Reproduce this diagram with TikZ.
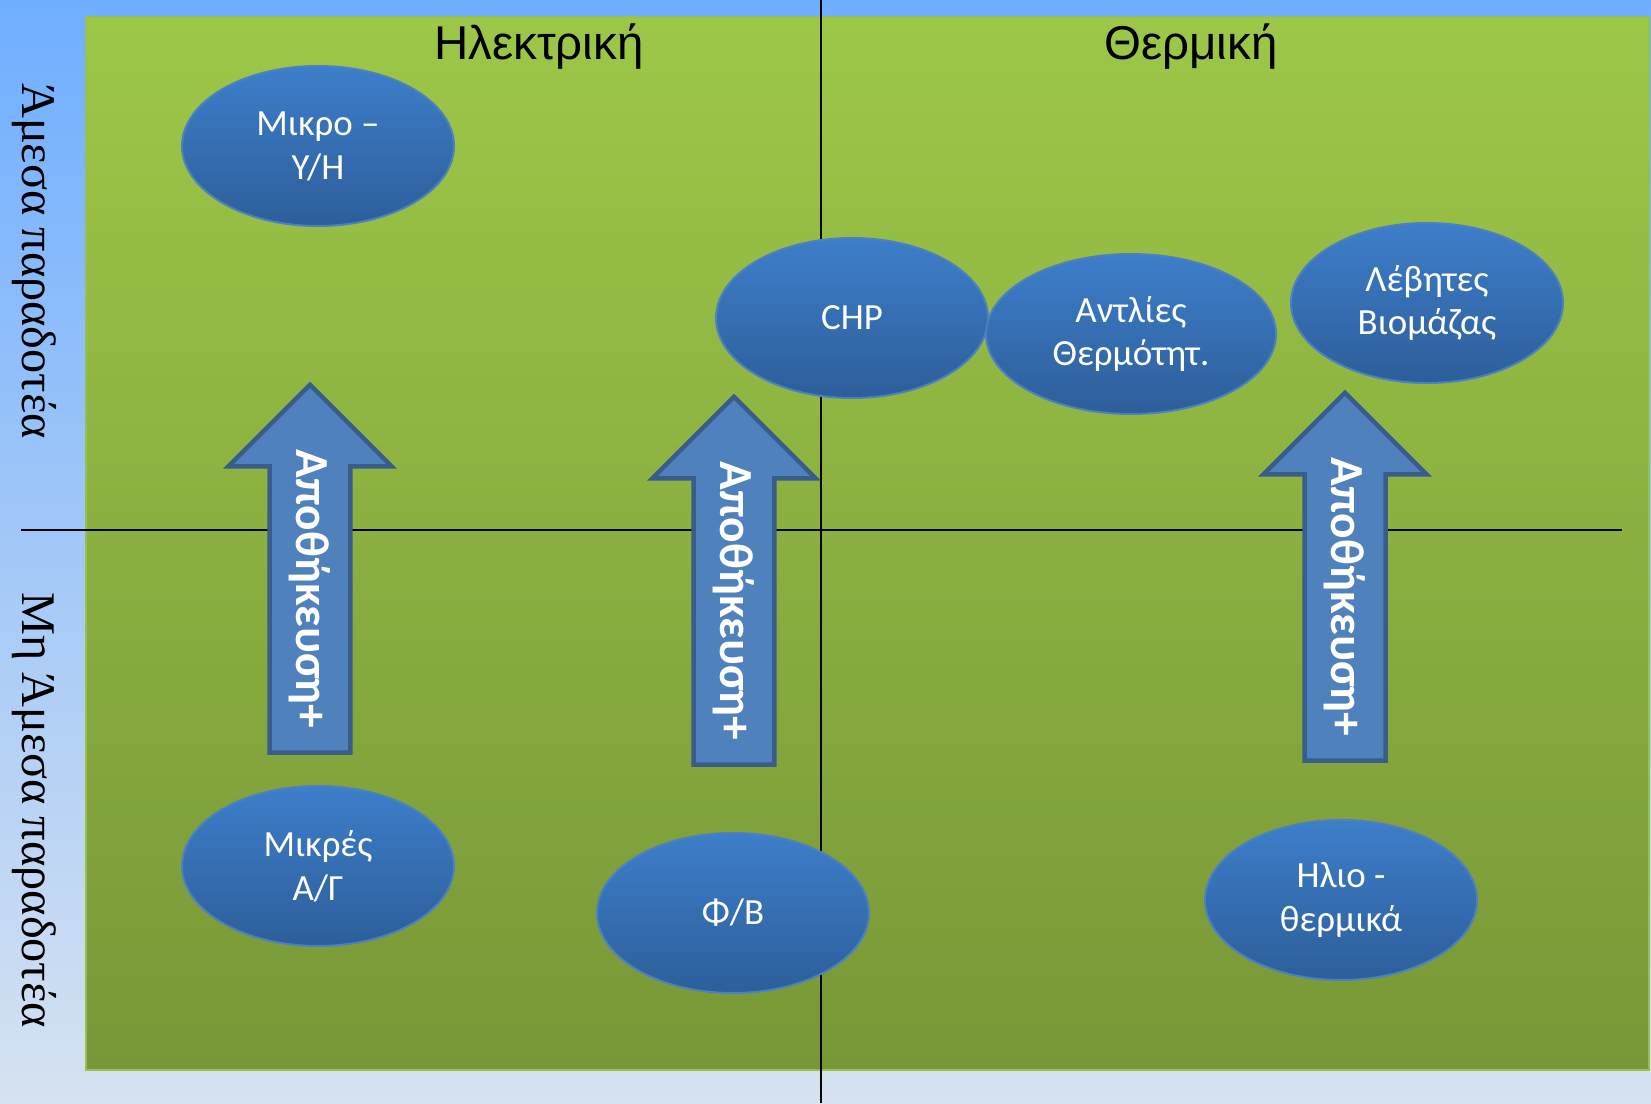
\documentclass[tikz,border=0pt]{standalone}
\usepackage{fontspec}
\setmainfont{Carlito}
\newfontfamily\headfont{Liberation Sans}
\newfontfamily\sidefont{Liberation Serif}
\usepackage{tikz}
\usetikzlibrary{shapes,positioning}
\usepackage{xcolor}
\definecolor{bgtop}{RGB}{111,174,255}
\definecolor{bgbottom}{RGB}{214,226,241}
\definecolor{fieldtop}{RGB}{157,199,72}
\definecolor{fieldbottom}{RGB}{120,151,55}
\definecolor{fieldedge}{RGB}{150,192,80}
\definecolor{techtop}{RGB}{61,126,202}
\definecolor{techbottom}{RGB}{45,94,154}
\definecolor{techedge}{RGB}{76,128,192}
\definecolor{storefill}{RGB}{79,129,189}
\definecolor{storeedge}{RGB}{56,93,138}
\tikzstyle{tech} = [ellipse, minimum width=5.44cm, minimum height=3.2cm, inner sep=0pt, top color=techtop, bottom color=techbottom, draw=techedge, line width=0.04cm, text=white, align=center, font=\fontsize{21}{25}\selectfont]
\tikzstyle{storage} = [single arrow, shape border rotate=180, rotate=-90, minimum height=7.36cm, minimum width=3.12cm, single arrow head extend=0.82cm, single arrow tip angle=90, inner xsep=0pt, inner ysep=0pt, text height=1.03cm, text depth=0.5cm, fill=storefill, draw=storeedge, line width=0.09cm, text=white, font=\fontsize{27}{32}\selectfont\bfseries]
\tikzstyle{colhead} = [font=\headfont\fontsize{27}{32}\selectfont, anchor=base]
\tikzstyle{rowhead} = [font=\sidefont\fontsize{27.5}{32}\selectfont, rotate=-90, anchor=base]
\tikzstyle{axis} = [line width=0.04cm, black]

\begin{document}
\begin{tikzpicture}[x=0.02cm, y=-0.02cm]
\useasboundingbox (0,0) rectangle (1651,1103);
% Background and field
\shade[top color=bgtop, bottom color=bgbottom] (0,0) rectangle (1651,1103);
\shadedraw[top color=fieldtop, bottom color=fieldbottom, draw=fieldedge, line width=0.04cm] (86,17) rectangle (1649,1070);

% Quadrant lines
\coordinate (vtop) at (821,0);
\coordinate (vbot) at (821,1103);
\coordinate (hleft) at (21,530);
\coordinate (hright) at (1622,530);
\draw[axis] (vtop) -- (vbot);
\draw[axis] (hleft) -- (hright);

% Headings
\node (elec) [colhead] at (539,59) {Ηλεκτρική};
\node (therm) [colhead] at (1191,59) {Θερμική};
\node (direct) [rowhead] at (22,261) {Άμεσα παραδοτέα};
\node (indirect) [rowhead] at (22,810) {Μη Άμεσα παραδοτέα};

% Technologies
\node (hydro) [tech] at (318,146) {Μικρο –\\Υ/Η};
\node (chp) [tech] at (852,318) {CHP};
\node (pumps) [tech, minimum width=5.8cm] at (1131,334) {Αντλίες\\Θερμότητ.};
\node (boilers) [tech] at (1427,303) {Λέβητες\\Βιομάζας};
\node (wind) [tech] at (318,866) {Μικρές\\Α/Γ};
\node (pv) [tech] at (733,913) {Φ/Β};
\node (solar) [tech] at (1341,900) {Ηλιο -\\θερμικά};

% Storage arrows
\node (store1) [storage] at (310,589) {Αποθήκευση+};
\node (store2) [storage] at (734,601) {Αποθήκευση+};
\node (store3) [storage] at (1345,597) {Αποθήκευση+};
\end{tikzpicture}
\end{document}
